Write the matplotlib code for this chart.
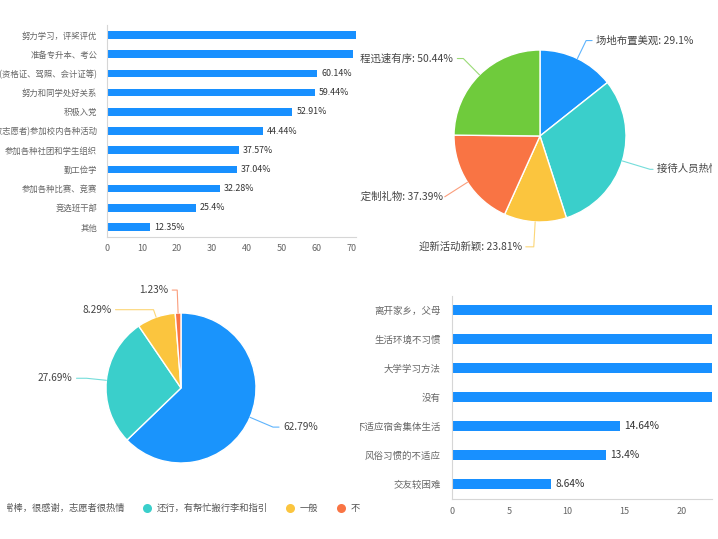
import matplotlib
matplotlib.use('Agg')
import matplotlib.pyplot as plt
import numpy as np
from matplotlib.transforms import Bbox, TransformedBbox

plt.rcParams['font.family'] = ['Noto Sans CJK SC', 'DejaVu Sans']

# ---------------- data ----------------
goal_labels = ['努力学习，评奖评优', '准备专升本、考公', '考取各类证书(资格证、驾照、会计证等)',
               '努力和同学处好关系', '积极入党', '(做志愿者)参加校内各种活动',
               '参加各种社团和学生组织', '勤工俭学', '参加各种比赛、竞赛', '竞选班干部', '其他']
goal_values = [75.66, 70.37, 60.14, 59.44, 52.91, 44.44, 37.57, 37.04, 32.28, 25.4, 12.35]
goal_ticks = [0, 10, 20, 30, 40, 50, 60, 70]

welcome_labels = ['场地布置美观', '接待人员热情', '迎新活动新颖', '个性定制礼物', '报到流程迅速有序']
welcome_values = [29.1, 62.36, 23.81, 37.39, 50.44]

volunteer_labels = ['非常棒，很感谢，志愿者很热情', '还行，有帮忙搬行李和指引', '一般', '不满意']
volunteer_values = [62.79, 27.69, 8.29, 1.23]

difficulty_labels = ['离开家乡，父母', '生活环境不习惯', '大学学习方法', '没有',
                     '不适应宿舍集体生活', '风俗习惯的不适应', '交友较困难']
difficulty_values = [39.76, 34.57, 28.4, 24.69, 14.64, 13.4, 8.64]
difficulty_ticks = [0, 5, 10, 15, 20]

# ---------------- style ----------------
BAR = '#1890ff'
PIE_TOP = ['#1a94fc', '#3acfcb', '#fbc53e', '#f97444', '#6fcb3c']
PIE_BOT = ['#1a94fc', '#3acfcb', '#fbc53e', '#f97444']
AXIS_TXT = '#666666'
VAL_TXT = '#333333'
SPINE = '#d6d6d6'

W, H = 718, 539
fig = plt.figure(figsize=(W / 100, H / 100), dpi=100)
fig.patch.set_facecolor('white')


def px_axes(x0, y0, x1, y1):
    return fig.add_axes([x0 / W, 1 - y1 / H, (x1 - x0) / W, (y1 - y0) / H])


def fig_clip(x0, y0, x1, y1):
    return TransformedBbox(Bbox.from_extents(x0 / W, 1 - y1 / H, x1 / W, 1 - y0 / H), fig.transFigure)


def style_bar_axes(ax):
    for s in ['top', 'right']:
        ax.spines[s].set_visible(False)
    for s in ['left', 'bottom']:
        ax.spines[s].set_color(SPINE)
        ax.spines[s].set_linewidth(0.8)
    ax.tick_params(length=0)


# ---------- top-left: bar chart ----------
ax1 = px_axes(107, 25.4, 356, 236.6)
y1 = np.arange(len(goal_values))
ax1.barh(y1, goal_values, height=0.4, color=BAR)
ax1.set_ylim(len(goal_values) - 0.5, -0.5)
ax1.set_xlim(0, 71.14)
ax1.set_xticks(goal_ticks)
ax1.set_yticks(y1)
ax1.set_yticklabels(goal_labels)
style_bar_axes(ax1)
ax1.tick_params(axis='y', pad=7, labelsize=6.0, labelcolor=AXIS_TXT)
ax1.tick_params(axis='x', pad=5.5, labelsize=6.5, labelcolor=AXIS_TXT)
for lbl in ax1.get_xticklabels():
    lbl.set_clip_on(True)
    lbl.set_clip_box(fig_clip(0, 0, 357, H))
for i, v in enumerate(goal_values):
    ax1.annotate(f'{v:g}%', xy=(v, i), xytext=(3, 0), textcoords='offset points',
                 va='center', ha='left', fontsize=6.4, color=VAL_TXT, clip_on=True)

# ---------- top-right: pie ----------
ax2 = px_axes(360, 0, 712, 275)
c2 = (540, H - 136)
r2 = 86
wedges, _ = ax2.pie(welcome_values, colors=PIE_TOP, startangle=90, counterclock=False,
                    center=c2, radius=r2, wedgeprops=dict(edgecolor='white', linewidth=1.0))
ax2.set_aspect('auto')
ax2.set_xlim(360, 712)
ax2.set_ylim(H - 275, H)
ax2.axis('off')
L1_top = [20, 29, 25, 27, 23]
L2_top = [6, 3, 8, 0, 6]
GAP_top = [4, 4, 4, 1.5, 4]
for w, lab, v, col, l1, l2, gap in zip(wedges, welcome_labels, welcome_values, PIE_TOP,
                                       L1_top, L2_top, GAP_top):
    th = np.deg2rad((w.theta1 + w.theta2) / 2)
    ex, ey = c2[0] + r2 * np.cos(th), c2[1] + r2 * np.sin(th)
    bx, by = c2[0] + (r2 + l1) * np.cos(th), c2[1] + (r2 + l1) * np.sin(th)
    sgn = 1 if np.cos(th) >= 0 else -1
    fx = bx + sgn * l2
    ax2.plot([ex, bx, fx], [ey, by, by], color=col, lw=0.8, alpha=0.7, solid_capstyle='round')
    ax2.text(fx + sgn * gap, by, f'{lab}: {v:g}%', ha='left' if sgn > 0 else 'right', va='center',
             fontsize=7.5, color='#444444', clip_on=True)

# ---------- bottom-left: pie with legend ----------
ax3 = px_axes(0, 280, 360, H)
c3 = (181, H - 388)
r3 = 75
wedges3, _ = ax3.pie(volunteer_values, colors=PIE_BOT, startangle=90, counterclock=False,
                     center=c3, radius=r3, wedgeprops=dict(edgecolor='white', linewidth=1.0))
ax3.set_aspect('auto')
ax3.set_xlim(0, 360)
ax3.set_ylim(0, H - 280)
ax3.axis('off')
L1_bot = [25, 20, 8, 23]
L2_bot = [6, 10, 38, 5]
for w, v, col, l1, l2 in zip(wedges3, volunteer_values, PIE_BOT, L1_bot, L2_bot):
    th = np.deg2rad((w.theta1 + w.theta2) / 2)
    ex, ey = c3[0] + r3 * np.cos(th), c3[1] + r3 * np.sin(th)
    bx, by = c3[0] + (r3 + l1) * np.cos(th), c3[1] + (r3 + l1) * np.sin(th)
    sgn = 1 if np.cos(th) >= 0 else -1
    fx = bx + sgn * l2
    ax3.plot([ex, bx, fx], [ey, by, by], color=col, lw=0.8, alpha=0.7, solid_capstyle='round')
    ax3.text(fx + sgn * 4, by, f'{v:g}%', ha='left' if sgn > 0 else 'right', va='center',
             fontsize=7.3, color='#444444', clip_on=True)

# manual legend (clipped by panel edges)
renderer = fig.canvas.get_renderer()
legend_clip = fig_clip(6.5, 280, 360, H)
lx = -14.5
ly = H - 508
for lab, col in zip(volunteer_labels, PIE_BOT):
    m, = ax3.plot([lx], [ly], 'o', color=col, markersize=6.5, markeredgewidth=0)
    m.set_clip_box(legend_clip)
    m.set_clip_path(None)
    t = ax3.text(lx + 10, ly, lab, ha='left', va='center', fontsize=6.7, color='#555555')
    t.set_clip_on(True)
    t.set_clip_box(legend_clip)
    t.set_clip_path(None)
    wpx = t.get_window_extent(renderer=renderer).width
    lx = lx + 10 + wpx + 22

# ---------- bottom-right: bar chart ----------
ax4 = px_axes(452, 295.5, 712, 498.5)
y4 = np.arange(len(difficulty_values))
ax4.barh(y4, difficulty_values, height=0.36, color=BAR)
ax4.set_ylim(len(difficulty_values) - 0.5, -0.5)
ax4.set_xlim(0, 22.6)
ax4.set_xticks(difficulty_ticks)
ax4.set_yticks(y4)
ax4.set_yticklabels(difficulty_labels)
style_bar_axes(ax4)
ax4.tick_params(axis='y', pad=8, labelsize=6.8, labelcolor=AXIS_TXT)
ax4.tick_params(axis='x', pad=6, labelsize=6.5, labelcolor=AXIS_TXT)
for lbl in ax4.get_yticklabels():
    lbl.set_clip_on(True)
    lbl.set_clip_box(fig_clip(360, 0, W, H))
for i, v in enumerate(difficulty_values):
    ax4.annotate(f'{v:g}%', xy=(v, i), xytext=(3, 0), textcoords='offset points',
                 va='center', ha='left', fontsize=7.3, color=VAL_TXT, clip_on=True)

fig.savefig('out.png', dpi=100, facecolor='white')
